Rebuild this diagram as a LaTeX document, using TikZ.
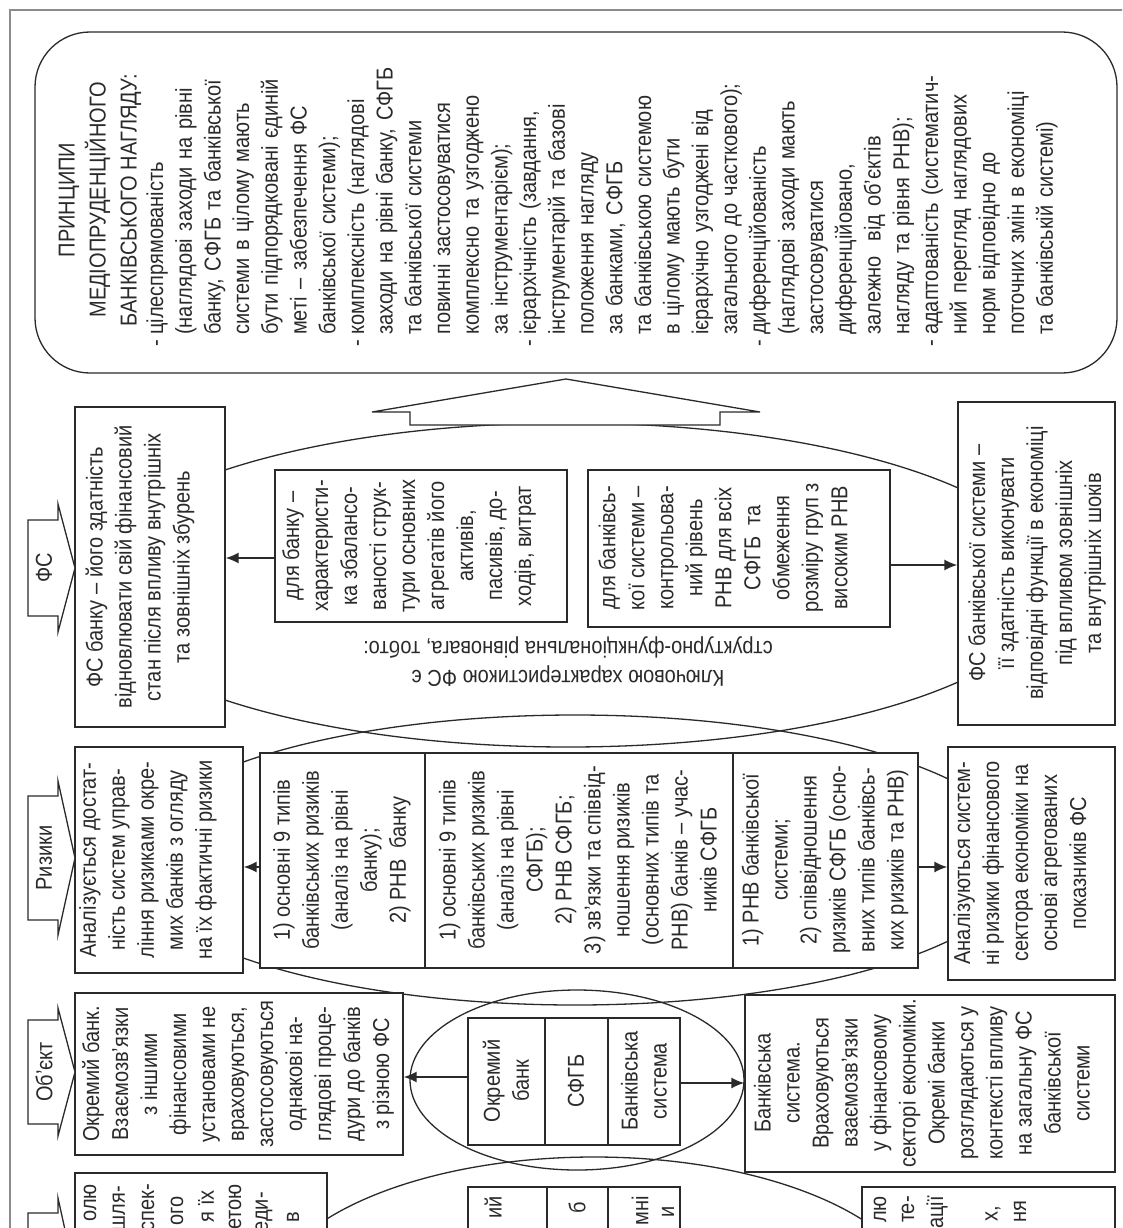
\documentclass[tikz,border=0pt]{standalone}
\usepackage{fontspec}
\setmainfont{Liberation Sans}[FakeStretch=0.87]
\usetikzlibrary{arrows.meta}
\newcommand{\fsz}{\fontsize{23}{29}\selectfont}
\newcommand{\fsp}{\fontsize{23}{28.7}\selectfont}
\newcommand{\bul}{\leavevmode\llap{-\hspace{5pt}}}
\definecolor{ink}{HTML}{2A2A2A}
\definecolor{framegray}{HTML}{8C8C8C}
\tikzset{
  bx/.style={draw=ink, line width=1.3pt, fill=white, inner sep=0pt, rectangle},
  tx/.style={rotate=90, align=center, inner sep=0pt, font=\fsz, text=ink},
  arr/.style={draw=ink, line width=1.6pt, -{Latex[length=13pt,width=11pt]}},
  ell/.style={draw=ink, line width=1.3pt},
  tagshape/.style={draw=ink, line width=1.3pt, fill=white, line join=miter},
}
\begin{document}
\begin{tikzpicture}[x=1pt,y=-1pt]
\useasboundingbox (0,0) rectangle (1122,1228);
\clip (0,0) rectangle (1122,1228);
\fill[white] (0,0) rectangle (1122,1228);
\draw[framegray, line width=1.6pt] (10,1260) -- (10,10) -- (1160,10);
% ellipses
\draw[ell] (568,585) ellipse [x radius=487pt, y radius=162pt];
\draw[ell] (575,860) ellipse [x radius=450pt, y radius=145pt];
\draw[ell] (577,1080) ellipse [x radius=167pt, y radius=90pt];
\draw[ell] (594,1307) ellipse [x radius=330pt, y radius=150pt];
% principles box
\node[bx, rounded corners=55pt, minimum width=1082pt, minimum height=341pt] (prin) at (576,202.5) {};
% block arrow
\draw[tagshape] (566,379) -- (760,412) -- (720,412) -- (720,425) -- (410,425) -- (410,412) -- (372,412) -- cycle;
% FS row boxes
\node[bx, minimum width=150pt, minimum height=320pt] (fsb) at (150,567) {};
\node[bx, minimum width=157pt, minimum height=323pt] (fss) at (1036.5,563.5) {};
\node[bx, minimum width=292pt, minimum height=152pt] (dlb) at (421,546) {};
\node[bx, minimum width=302pt, minimum height=157pt] (dls) at (739,548.5) {};
% risks row
\node[bx, minimum width=168pt, minimum height=226pt] (rkb) at (159,860) {};
\node[bx, minimum width=165pt, minimum height=215pt] (rc1) at (342.5,860.5) {};
\node[bx, minimum width=308pt, minimum height=215pt] (rc2) at (579,860.5) {};
\node[bx, minimum width=185pt, minimum height=215pt] (rc3) at (825.5,860.5) {};
\node[bx, minimum width=167pt, minimum height=233pt] (rks) at (1031.5,863.5) {};
% object row
\node[bx, minimum width=328pt, minimum height=162pt] (obb) at (239,1074) {};
\node[bx, minimum width=370pt, minimum height=177pt] (obs) at (930,1083.5) {};
\node[bx, minimum width=77pt, minimum height=127pt] (oc1) at (506.5,1081.5) {};
\node[bx, minimum width=63pt, minimum height=127pt] (oc2) at (576.5,1081.5) {};
\node[bx, minimum width=72pt, minimum height=127pt] (oc3) at (644,1081.5) {};
% bottom row (cut off)
\node[bx, minimum width=252pt, minimum height=117pt] (blb) at (201,1231.5) {};
\node[bx, minimum width=79pt, minimum height=103pt] (bc1) at (507.5,1238.5) {};
\node[bx, minimum width=61pt, minimum height=103pt] (bc2) at (577.5,1238.5) {};
\node[bx, minimum width=72pt, minimum height=103pt] (bc3) at (644,1238.5) {};
\node[bx, minimum width=253pt, minimum height=103pt] (brb) at (988.5,1238.5) {};
% tags
\draw[tagshape] (28,520) -- (58,520) -- (58,504) -- (75,568) -- (58,632) -- (58,616) -- (28,616) -- cycle;
\draw[tagshape] (28,796) -- (58,796) -- (58,781) -- (75,858) -- (58,935) -- (58,920) -- (28,920) -- cycle;
\draw[tagshape] (28,1020) -- (58,1020) -- (58,1008) -- (75,1072) -- (58,1136) -- (58,1124) -- (28,1124) -- cycle;
\draw[tagshape] (28,1300) -- (28,1213) -- (58,1213) -- (58,1198) -- (75,1275) -- (58,1300);
\node[tx] (tfs) at (44,568) {ФС};
\node[tx] (trs) at (44,858) {Ризики};
\node[tx] (tob) at (44,1072) {Об’єкт};
% arrows
\draw[arr] (dlb.west |- 0,558) -- (fsb.east |- 0,558);
\draw[arr] (dls.east |- 0,565) -- (fss.west |- 0,565);
\draw[arr] (rc1.west |- 0,867) -- (rkb.east |- 0,867);
\draw[arr] (rc3.east |- 0,867) -- (rks.west |- 0,867);
\draw[arr] (oc1.west |- 0,1077) -- (obb.east |- 0,1077);
\draw[arr] (oc3.east |- 0,1083) -- (obs.west |- 0,1083);
% principles text
\node[tx, font=\fontsize{23}{31}\selectfont] (ptitle) at (100,200) {ПРИНЦИПИ\\МЕДІОПРУДЕНЦІЙНОГО\\БАНКІВСЬКОГО НАГЛЯДУ:};
\node[rotate=90, align=left, inner sep=0pt, font=\fsp, text=ink, text width=300pt, anchor=west] (pbody) at (602,335) {%
\bul цілеспрямованість\\
(наглядові заходи на рівні\\
банку, СФГБ та банківської\\
системи в цілому мають\\
бути підпорядковані єдиній\\
меті – забезпечення ФС\\
банківської системи);\\
\bul комплексність (наглядові\\
заходи на рівні банку, СФГБ\\
та банківської системи\\
повинні застосовуватися\\
комплексно та узгоджено\\
за інструментарієм);\\
\bul ієрархічність (завдання,\\
інструментарій та базові\\
положення нагляду\\
за банками, СФГБ\\
та банківською системою\\
в цілому мають бути\\
ієрархічно узгоджені від\\
загального до часткового);\\
\bul диференційованість\\
(наглядові заходи мають\\
застосовуватися\\
диференційовано,\\
залежно\ \ від об’єктів\\
нагляду та рівня РНВ);\\
\bul адаптованість (систематич-\\
ний перегляд наглядових\\
норм відповідно до\\
поточних змін в економіці\\
та банківській системі)};
% FS row text
\node[tx] (tfsb) at (140,567) {ФС банку – його здатність\\відновлювати свій фінансовий\\стан після впливу внутрішніх\\та зовнішніх збурень};
\node[tx] (tfss) at (1037,563) {ФС банківської системи –\\її здатність виконувати\\відповідні функції в економіці\\під впливом зовнішніх\\та внутрішніх шоків};
\node[tx] (tdlb) at (409,546) {для банку –\\характеристи-\\ка збалансо-\\ваності струк-\\тури основних\\агрегатів його\\активів,\\пасивів, до-\\ходів, витрат};
\node[tx] (tdls) at (723,548) {для банківсь-\\кої системи –\\контрольова-\\ний рівень\\РНВ для всіх\\СФГБ\ \ та\\обмеження\\розміру груп з\\високим РНВ};
\node[tx, rotate=90] (tkey) at (568,662) {Ключовою характеристикою ФС є\\структурно-функціональна рівновага, тобто:};
% risks text
\node[tx] (trkb) at (148,860) {Аналізується достат-\\ність систем управ-\\ління ризиками окре-\\мих банків з огляду\\на їх фактичні ризики};
\node[tx] (trc1) at (342,860) {1) основні 9 типів\\банківських ризиків\\(аналіз на рівні\\банку);\\2) РНВ\ \ банку};
\node[tx] (trc2) at (578,860) {1) основні 9 типів\\банківських ризиків\\(аналіз на рівні\\СФГБ);\\2) РНВ СФГБ;\\3) зв’язки та співвід-\\ношення ризиків\\(основних типів та\\РНВ) банків – учас-\\ників СФГБ};
\node[tx] (trc3) at (825,860) {1) РНВ банківської\\системи;\\2) співвідношення\\ризиків СФГБ (осно-\\вних типів банківсь-\\ких ризиків та РНВ)};
\node[tx] (trks) at (1020,863) {Аналізуються систем-\\ні ризики фінансового\\сектора економіки на\\основі агрегованих\\показників ФС};
% object text
\node[tx] (tobb) at (238,1074) {Окремий банк.\\Взаємозв’язки\\з іншими\\фінансовими\\установами не\\враховуються,\\застосовуються\\однакові на-\\глядові проце-\\дури до банків\\з різною ФС};
\node[tx] (tobs) at (922,1083) {Банківська\\система.\\Враховуються\\взаємозв’язки\\у фінансовому\\секторі економіки.\\Окремі банки\\розглядаються у\\контексті впливу\\на загальну ФС\\банківської\\системи};
\node[tx] (toc1) at (506,1081) {Окремий\\банк};
\node[tx] (toc2) at (576,1081) {СФГБ};
\node[tx] (toc3) at (644,1081) {Банківська\\система};
% bottom fragments
\node[tx, anchor=east] at (90,1184) {олю};
\node[tx, anchor=east] at (119,1186) {шля-};
\node[tx, anchor=east] at (148,1184) {спек-};
\node[tx, anchor=east] at (177,1196) {ого};
\node[tx, anchor=east] at (206,1190) {я їх};
\node[tx, anchor=east] at (235,1184) {етою};
\node[tx, anchor=east] at (264,1192) {еди-};
\node[tx, anchor=east] at (293,1212) {в};
\node[tx, anchor=east] at (493,1196) {ий};
\node[tx, anchor=east] at (577,1202) {б};
\node[tx, anchor=east] at (640,1196) {мні};
\node[tx, anchor=east] at (668,1206) {и};
\node[tx, anchor=east] at (880,1196) {лю};
\node[tx, anchor=east] at (908,1196) {те-};
\node[tx, anchor=east] at (937,1196) {ації};
\node[tx, anchor=east] at (993,1206) {х,};
\node[tx, anchor=east] at (1020,1200) {ня};
\end{tikzpicture}
\end{document}
